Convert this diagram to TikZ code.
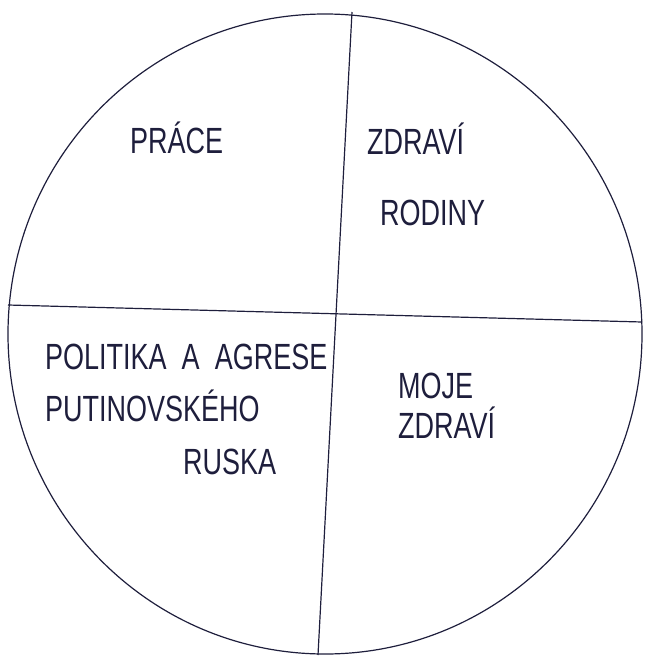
\documentclass[tikz,border=0pt]{standalone}
\usepackage{fontspec}
\setmainfont{Liberation Sans}
\definecolor{ink}{HTML}{1E1E3C}
\newcommand{\tallhand}[1]{\scalebox{1}[1.35]{#1}}
\begin{document}
\begin{tikzpicture}[x=1pt,y=-1pt,
  pen/.style={draw=ink, line width=1.2pt},
  hand/.style={text=ink, font=\fontsize{27}{30}\selectfont, inner sep=0pt, anchor=west}]
\useasboundingbox (0,0) rectangle (650,656);
\draw[pen] (325,334) ellipse [x radius=317, y radius=320];
\coordinate (vt) at (352,12);
\coordinate (vb) at (318,655);
\coordinate (hl) at (8,305);
\coordinate (hr) at (642,322);
\draw[pen] (vt) -- (vb);
\draw[pen] (hl) -- (hr);
\node[hand] (prace) at (130,138) {\tallhand{PRÁCE}};
\node[hand] (zdravi1) at (367,139) {\tallhand{ZDRAVÍ}};
\node[hand] (rodiny) at (380,213) {\tallhand{RODINY}};
\node[hand] (politika) at (45,357) {\tallhand{POLITIKA \ A \ AGRESE}};
\node[hand] (putin) at (45,406) {\tallhand{PUTINOVSKÉHO}};
\node[hand] (ruska) at (183,462) {\tallhand{RUSKA}};
\node[hand] (moje) at (398,386) {\tallhand{MOJE}};
\node[hand] (zdravi2) at (398,423) {\tallhand{ZDRAVÍ}};
\end{tikzpicture}
\end{document}
